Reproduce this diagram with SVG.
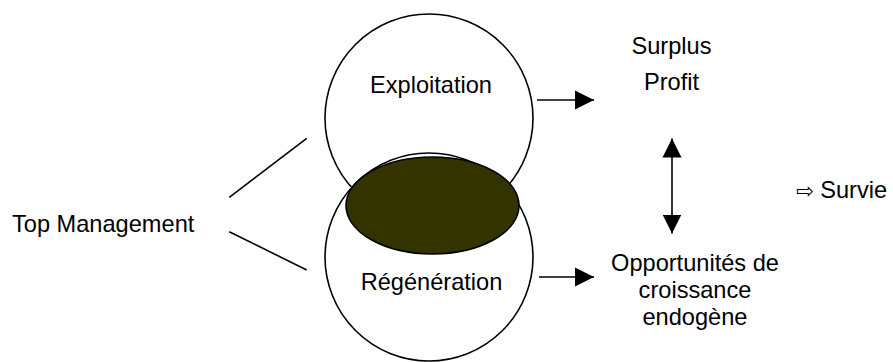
<svg xmlns="http://www.w3.org/2000/svg" width="893" height="362" viewBox="0 0 893 362">
  <style>
    text { font-family: "Liberation Sans", Arial, sans-serif; font-size: 23.6px; fill: #000; }
    .mid { text-anchor: middle; }
    .ring { fill: #fff; stroke: #000; stroke-width: 1.6; }
    .core { fill: #333300; stroke: #000; stroke-width: 1.6; }
    .link { stroke: #000; stroke-width: 1.6; fill: none; }
    .sym { font-family: "DejaVu Sans", sans-serif; font-size: 21px; }
  </style>
  <defs>
    <marker id="head" markerUnits="userSpaceOnUse" markerWidth="20" markerHeight="20" refX="19" refY="10" orient="auto-start-reverse">
      <path d="M0,0.5 L19,10 L0,19.5 z" fill="#000"/>
    </marker>
  </defs>

  <!-- two activity circles with their shared core -->
  <g id="exploitation">
    <circle class="ring" cx="429" cy="118" r="104"/>
  </g>
  <g id="regeneration">
    <circle class="ring" cx="429" cy="257" r="104"/>
  </g>
  <g id="overlap">
    <ellipse class="core" cx="432.5" cy="205.5" rx="86.5" ry="48.5"/>
  </g>
  <g id="exploitation-label">
    <text class="mid" x="431" y="93">Exploitation</text>
  </g>
  <g id="regeneration-label">
    <text class="mid" x="431.5" y="290">Régénération</text>
  </g>

  <g id="top-management">
    <text x="12" y="232">Top Management</text>
  </g>

  <g id="surplus-profit">
    <text class="mid" x="671.5" y="54">Surplus</text>
    <text class="mid" x="671.5" y="90">Profit</text>
  </g>

  <g id="opportunites">
    <text class="mid" x="695" y="271">Opportunités de</text>
    <text class="mid" x="695" y="298">croissance</text>
    <text class="mid" x="695" y="325">endogène</text>
  </g>

  <g id="survie">
    <text x="796" y="198"><tspan class="sym">⇨</tspan> Survie</text>
  </g>

  <!-- connectors -->
  <g id="connectors">
    <line class="link" x1="229.3" y1="197.3" x2="306.7" y2="138.3"/>
    <line class="link" x1="229.3" y1="231.7" x2="306.7" y2="270"/>
    <line class="link" x1="537" y1="100" x2="594" y2="100" marker-end="url(#head)"/>
    <line class="link" x1="539" y1="277" x2="594" y2="277" marker-end="url(#head)"/>
    <line class="link" x1="672" y1="138.5" x2="672" y2="233.5" marker-start="url(#head)" marker-end="url(#head)"/>
  </g>
</svg>
